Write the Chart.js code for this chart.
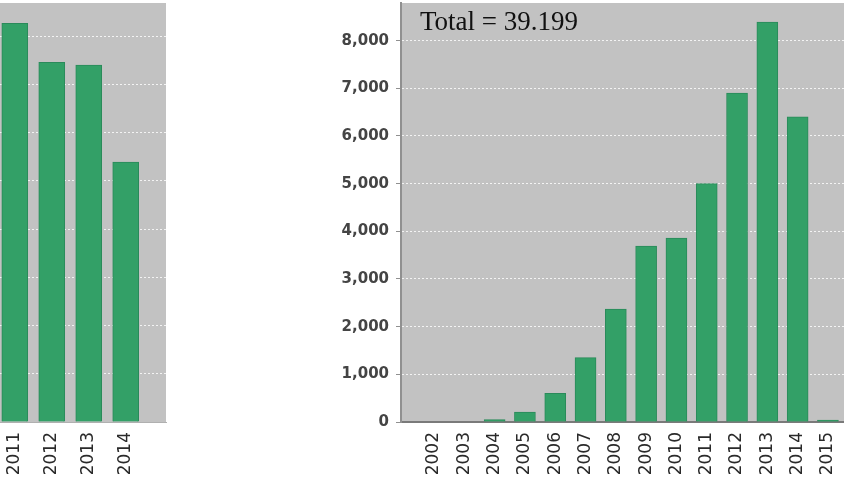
<!DOCTYPE html>
<html><head><meta charset="utf-8">
<script src="https://cdn.jsdelivr.net/npm/chart.js@4/dist/chart.umd.min.js"></script>
<style>
html,body{margin:0;padding:0;background:#fff;width:844px;height:498px;overflow:hidden;}
#left{position:absolute;left:0;top:0;width:180px;height:498px;}
#right{position:absolute;left:320px;top:0;width:524px;height:498px;}
</style></head><body>
<div id="left"><canvas id="c1"></canvas></div>
<div id="right"><canvas id="c2"></canvas></div>
<script>
// ---- data ----
const leftYears = [2011, 2012, 2013, 2014];
const leftLabels = ['2011', '2012', '2013', '2014'];
const leftValues = [8270, 7460, 7400, 5390];

const rightYears = [2002, 2003, 2004, 2005, 2006, 2007, 2008, 2009, 2010, 2011, 2012, 2013, 2014, 2015];
const rightLabels = ['2002', '2003', '2004', '2005', '2006', '2007', '2008', '2009', '2010', '2011', '2012', '2013', '2014', '2015'];
const rightValues = [0, 0, 50, 210, 600, 1350, 2370, 3690, 3860, 5000, 6900, 8390, 6400, 40];

const yTicks = [0, 1000, 2000, 3000, 4000, 5000, 6000, 7000, 8000];
const yTickLabels = ['0', '1,000', '2,000', '3,000', '4,000', '5,000', '6,000', '7,000', '8,000'];
const totalLabel = 'Total = 39.199';

// ---- plugins ----
const plotBg = {
  id: 'plotBg',
  beforeDraw(chart, args, opts) {
    const {ctx, chartArea: a} = chart;
    ctx.save();
    ctx.fillStyle = opts.color || '#c2c2c2';
    ctx.fillRect(a.left, a.top, a.right - a.left, a.bottom - a.top);
    ctx.restore();
  }
};
const totalText = {
  id: 'totalText',
  afterDraw(chart) {
    const {ctx, chartArea: a} = chart;
    ctx.save();
    ctx.font = '27px "Liberation Serif", "Times New Roman", serif';
    ctx.fillStyle = '#111';
    ctx.textBaseline = 'alphabetic';
    ctx.textAlign = 'left';
    ctx.fillText(totalLabel, a.left + 19, a.top + 27);
    ctx.restore();
  }
};

const zeroPad = s => { s.paddingTop = 0; s.paddingBottom = 0; s.paddingLeft = 0; s.paddingRight = 0; };
const barFill = '#33a067';
const barEdge = '#2a8a5a';
const gridCol = c => (c.tick && c.tick.value === 0) ? 'rgba(0,0,0,0)' : 'rgba(255,255,255,0.8)';
const labelFont = {family: 'DejaVu Sans', size: 17, weight: 'normal'};

// ---- left (cropped) chart ----
new Chart(document.getElementById('c1'), {
  type: 'bar',
  data: {datasets: [{
    data: leftYears.map((x, i) => ({x: x, y: leftValues[i]})),
    backgroundColor: barFill, borderColor: barEdge, borderWidth: 1, barThickness: 26
  }]},
  options: {
    responsive: true, maintainAspectRatio: false, animation: false,
    layout: {padding: {top: 3, right: 14, left: 0, bottom: 0}},
    plugins: {legend: {display: false}, tooltip: {enabled: false}, plotBg: {color: '#c2c2c2'}},
    scales: {
      x: {
        type: 'linear', offset: false, min: 2010.6, max: 2015.09,
        afterBuildTicks: s => { s.ticks = leftYears.map(v => ({value: v})); },
        afterFit: s => { s.height = 76; zeroPad(s); },
        ticks: {autoSkip: false, maxRotation: 90, minRotation: 90, padding: 10, color: '#2a2a2a', font: labelFont,
          callback: v => leftLabels[leftYears.indexOf(v)]},
        grid: {display: false, drawTicks: false, offset: false},
        border: {display: true, color: '#b0b0b0', width: 1}
      },
      y: {
        min: 0, max: 8690,
        afterBuildTicks: s => { s.ticks = yTicks.map(v => ({value: v})); },
        afterFit: s => { s.width = 0; zeroPad(s); },
        ticks: {display: false},
        grid: {color: gridCol, drawTicks: false, lineWidth: 1},
        border: {display: false, dash: [2, 2]}
      }
    }
  },
  plugins: [plotBg]
});

// ---- right chart ----
new Chart(document.getElementById('c2'), {
  type: 'bar',
  data: {datasets: [{
    data: rightYears.map((x, i) => ({x: x, y: rightValues[i]})),
    backgroundColor: barFill, borderColor: barEdge, borderWidth: 1, barThickness: 21
  }]},
  options: {
    responsive: true, maintainAspectRatio: false, animation: false,
    layout: {padding: {top: 3, right: 0, left: 0, bottom: 0}},
    plugins: {legend: {display: false}, tooltip: {enabled: false}, plotBg: {color: '#c2c2c2'}},
    scales: {
      x: {
        type: 'linear', offset: false, min: 2000.91, max: 2015.53,
        afterBuildTicks: s => { s.ticks = rightYears.map(v => ({value: v})); },
        afterFit: s => { s.height = 76; zeroPad(s); },
        ticks: {autoSkip: false, maxRotation: 90, minRotation: 90, padding: 10, color: '#2a2a2a', font: labelFont,
          callback: v => rightLabels[rightYears.indexOf(v)]},
        grid: {display: false, drawTicks: false, offset: false},
        border: {display: true, color: '#7a7a7a', width: 2}
      },
      y: {
        min: 0, max: 8790,
        afterBuildTicks: s => { s.ticks = yTicks.map(v => ({value: v})); },
        afterFit: s => { s.width = 81; zeroPad(s); },
        ticks: {padding: 7, color: '#444', font: {family: 'DejaVu Sans', size: 15, weight: 'bold'},
          callback: v => yTickLabels[yTicks.indexOf(v)]},
        grid: {color: gridCol, tickColor: '#909090', tickLength: 5, lineWidth: 1},
        border: {display: true, color: '#909090', width: 2, dash: [2, 2]}
      }
    }
  },
  plugins: [plotBg, totalText]
});
</script>
</body></html>
